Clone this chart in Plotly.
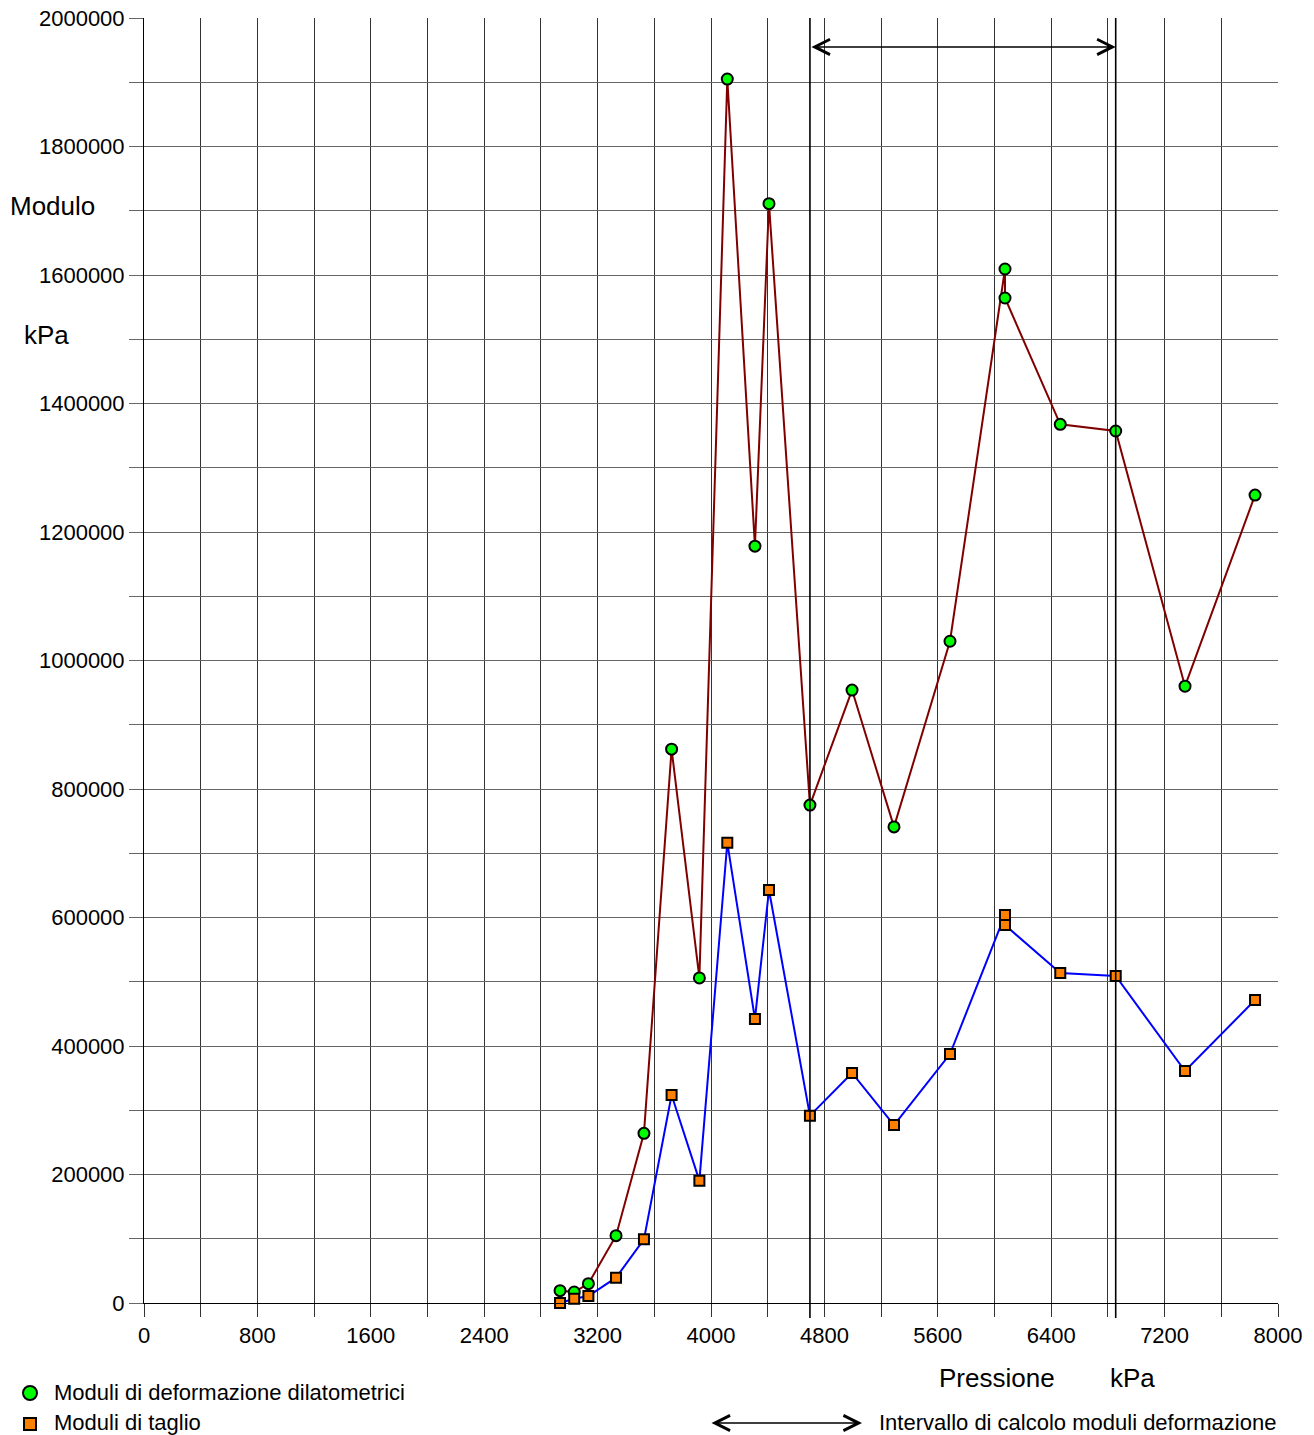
import plotly.graph_objects as go

# Pressure steps (kPa) and the moduli measured at each step (kPa)
pressione = [2935, 3035, 3135, 3330, 3527, 3722, 3918, 4115, 4310, 4409,
             4698, 4995, 5291, 5686, 6074, 6074, 6464, 6855, 7344, 7838]
moduli_dilatometrici = [19200, 17100, 30100, 104800, 264100, 862000, 506000,
                        1905000, 1178000, 1711000, 775000, 954000, 741000,
                        1030000, 1609300, 1564200, 1367600, 1357200, 960000,
                        1257500]
moduli_taglio = [0, 6700, 10900, 39400, 99100, 323700, 190400, 716400, 442000,
                 642800, 291600, 358000, 277000, 387500, 604000, 588300,
                 513600, 509000, 361000, 471600]

# Pressure interval used to compute the deformation moduli
intervallo = [pressione[10], pressione[17]]

x_ticks = list(range(0, 8001, 400))
x_labels = [str(v) if v % 800 == 0 else "" for v in x_ticks]
y_ticks = list(range(0, 2000001, 100000))
y_labels = [str(v) if v % 200000 == 0 else "" for v in y_ticks]

FONT = "Liberation Sans, Arial, sans-serif"

# Plot-area geometry in pixels, used to place the keys below the axes
W, H = 1314, 1435
L, R, T, B = 144, 36, 18, 132
PW, PH = W - L - R, H - T - B


def px(xp):
    return (xp - L) / PW


def py(yp):
    return (H - B - yp) / PH


fig = go.Figure()

fig.add_trace(go.Scatter(
    x=pressione, y=moduli_dilatometrici, mode="lines+markers",
    name="Moduli di deformazione dilatometrici",
    line=dict(color="#800000", width=2),
    marker=dict(symbol="circle", size=11, color="#00FF00",
                line=dict(color="black", width=2)),
    showlegend=False, cliponaxis=False,
))
fig.add_trace(go.Scatter(
    x=pressione, y=moduli_taglio, mode="lines+markers",
    name="Moduli di taglio",
    line=dict(color="#0000FF", width=2),
    marker=dict(symbol="square", size=10, color="#FF8000",
                line=dict(color="black", width=2)),
    showlegend=False, cliponaxis=False,
))

# Vertical lines bounding the calculation interval
for xv in intervallo:
    fig.add_shape(type="line", xref="x", yref="paper", x0=xv, x1=xv,
                  y0=py(H - B + 15), y1=1, line=dict(color="black", width=1.6),
                  layer="above")

# Double arrow spanning the interval
fig.add_annotation(x=intervallo[1], y=1955000, ax=intervallo[0], ay=1955000,
                   xref="x", yref="y", axref="x", ayref="y", text="",
                   showarrow=True, arrowside="end+start", arrowhead=5,
                   arrowsize=2, arrowwidth=1.5, arrowcolor="black",
                   standoff=0, startstandoff=0)

# Series keys (symbol + label)
fig.add_shape(type="circle", xref="paper", yref="paper",
              xsizemode="pixel", ysizemode="pixel",
              xanchor=px(30), yanchor=py(1393), x0=-7, x1=7, y0=-7, y1=7,
              fillcolor="#00FF00", line=dict(color="black", width=2))
fig.add_shape(type="rect", xref="paper", yref="paper",
              xsizemode="pixel", ysizemode="pixel",
              xanchor=px(30), yanchor=py(1424), x0=-6, x1=6, y0=-6, y1=6,
              fillcolor="#FF8000", line=dict(color="black", width=2))
fig.add_annotation(x=px(52), y=py(1392), xref="paper", yref="paper",
                   showarrow=False, text="Moduli di deformazione dilatometrici",
                   xanchor="left", yanchor="middle",
                   font=dict(family=FONT, size=22, color="black"))
fig.add_annotation(x=px(52), y=py(1422), xref="paper", yref="paper",
                   showarrow=False, text="Moduli di taglio",
                   xanchor="left", yanchor="middle",
                   font=dict(family=FONT, size=22, color="black"))

# Key for the interval arrow
fig.add_annotation(x=px(862), y=py(1423), xref="paper", yref="paper",
                   ax=-152, ay=0, text="",
                   showarrow=True, arrowside="end+start", arrowhead=5,
                   arrowsize=2, arrowwidth=1.5, arrowcolor="black",
                   standoff=0, startstandoff=0)
fig.add_annotation(x=px(877), y=py(1422), xref="paper", yref="paper",
                   showarrow=False,
                   text="Intervallo di calcolo moduli deformazione",
                   xanchor="left", yanchor="middle",
                   font=dict(family=FONT, size=22, color="black"))

# Axis titles
fig.add_annotation(x=px(997), y=py(1378), xref="paper", yref="paper",
                   showarrow=False, text="Pressione",
                   xanchor="center", yanchor="middle",
                   font=dict(family=FONT, size=26, color="black"))
fig.add_annotation(x=px(1132), y=py(1378), xref="paper", yref="paper",
                   showarrow=False, text="kPa",
                   xanchor="center", yanchor="middle",
                   font=dict(family=FONT, size=26, color="black"))
fig.add_annotation(x=px(8), y=py(206), xref="paper", yref="paper",
                   showarrow=False, text="Modulo",
                   xanchor="left", yanchor="middle",
                   font=dict(family=FONT, size=26, color="black"))
fig.add_annotation(x=px(22), y=py(335), xref="paper", yref="paper",
                   showarrow=False, text="kPa",
                   xanchor="left", yanchor="middle",
                   font=dict(family=FONT, size=26, color="black"))

fig.update_layout(
    width=W, height=H,
    margin=dict(l=L, r=R, t=T, b=B, autoexpand=False),
    paper_bgcolor="white", plot_bgcolor="white",
    font=dict(family=FONT, size=22, color="black"),
    showlegend=False,
    xaxis=dict(range=[0, 8000], tickmode="array", tickvals=x_ticks,
               ticktext=x_labels, showgrid=True, gridcolor="#333333",
               gridwidth=1, ticks="outside", ticklen=13, tickcolor="#333333",
               tickwidth=1, showline=True, linecolor="black", linewidth=1,
               zeroline=False, tickfont=dict(size=22), automargin=False),
    yaxis=dict(range=[0, 2000000], tickmode="array", tickvals=y_ticks,
               ticktext=y_labels, showgrid=True, gridcolor="#666666",
               gridwidth=1, ticks="outside", ticklen=14, tickcolor="#666666",
               tickwidth=1, showline=True, linecolor="black", linewidth=1,
               zeroline=False, tickfont=dict(size=22), automargin=False),
)

fig.write_html("out.html")
